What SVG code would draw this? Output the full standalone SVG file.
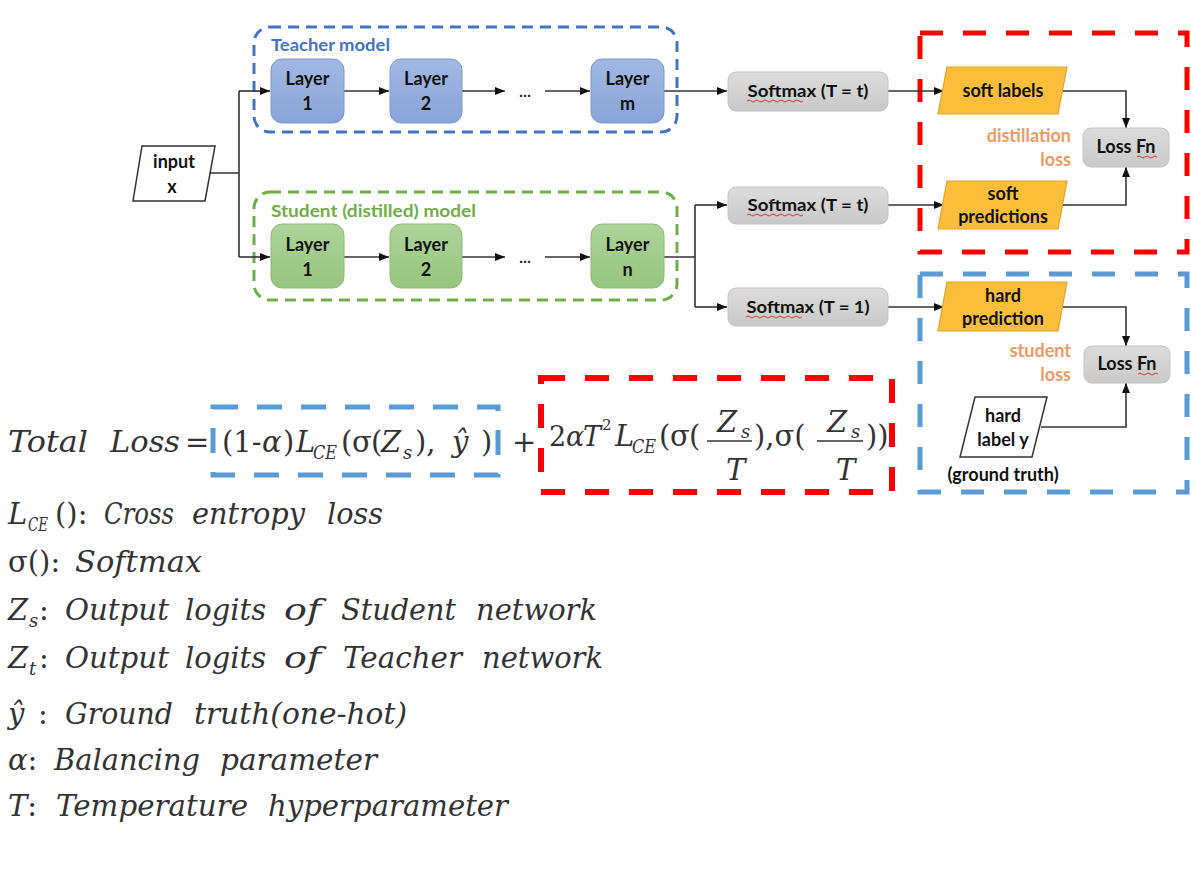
<svg xmlns="http://www.w3.org/2000/svg" width="1191" height="874" viewBox="0 0 1191 874">
<defs>
<linearGradient id="gBlue" x1="0" y1="0" x2="0" y2="1"><stop offset="0" stop-color="#A3B8E4"/><stop offset="1" stop-color="#8AA3D8"/></linearGradient>
<linearGradient id="gGreen" x1="0" y1="0" x2="0" y2="1"><stop offset="0" stop-color="#AFD39A"/><stop offset="1" stop-color="#97C57E"/></linearGradient>
<linearGradient id="gGray" x1="0" y1="0" x2="0" y2="1"><stop offset="0" stop-color="#DCDCDC"/><stop offset="1" stop-color="#C9C9C9"/></linearGradient>
<marker id="arr" markerUnits="userSpaceOnUse" markerWidth="10" markerHeight="10" viewBox="0 0 10 10" refX="10" refY="5" orient="auto"><path d="M0,1 L10,5 L0,9 z" fill="#111"/></marker>
</defs>
<style>
.lbl{font-family:Lato,"Open Sans","Liberation Sans",sans-serif;font-weight:bold;fill:#111;text-anchor:middle}
.layer{font-size:18px}
.smx{font-size:17px}
.blayer{fill:url(#gBlue);stroke:#7C98D2;stroke-width:1}
.glayer{fill:url(#gGreen);stroke:#8BBB72;stroke-width:1}
.gray{fill:url(#gGray);stroke:#C4C4C4;stroke-width:1}
.orange{fill:#FBBE3A;stroke:#E2A12A;stroke-width:1.2}
.white{fill:#fff;stroke:#333;stroke-width:1.5}
.conn{fill:none;stroke:#333;stroke-width:1.6}
.note{font-family:Lato,"Open Sans","Liberation Sans",sans-serif;font-weight:bold;font-size:18px;fill:#EE9A62;text-anchor:end}
.math{font-family:"DejaVu Serif","Liberation Serif",serif;font-style:italic;font-size:29px;fill:#333}
.up{font-style:normal}
.sub{font-size:18px}
.sup{font-size:15px}
.m27{font-size:27px}
.squig{fill:none;stroke:#E02020;stroke-width:0.9}
</style>

<!-- containers -->
<g id="teacher-model">
<rect x="254" y="27" width="423" height="105" rx="16" fill="none" stroke="#4472C4" stroke-width="3" stroke-dasharray="11,7"/>
<text x="271" y="51" font-family="Lato,'Open Sans','Liberation Sans',sans-serif" font-weight="bold" font-size="17" fill="#4472C4" textLength="119" lengthAdjust="spacingAndGlyphs">Teacher model</text>
</g>
<g id="student-model">
<rect x="254" y="192" width="423" height="108" rx="16" fill="none" stroke="#70AD47" stroke-width="3" stroke-dasharray="11,7"/>
<text x="271" y="217" font-family="Lato,'Open Sans','Liberation Sans',sans-serif" font-weight="bold" font-size="17" fill="#70AD47" textLength="205" lengthAdjust="spacingAndGlyphs">Student (distilled) model</text>
</g>
<g id="distillation-region">
<rect x="920" y="33" width="267" height="219" fill="none" stroke="#FF0000" stroke-width="5" stroke-dasharray="23,20"/>
<text class="note" x="1071" y="142">distillation</text>
<text class="note" x="1071" y="166">loss</text>
</g>
<g id="student-region">
<rect x="920" y="274" width="267" height="218" fill="none" stroke="#5B9BD5" stroke-width="5" stroke-dasharray="23,20"/>
<text class="note" x="1071" y="357">student</text>
<text class="note" x="1071" y="381">loss</text>
</g>

<!-- connectors -->
<g id="connectors">
<path class="conn" d="M209,173 H239 M239,91 V257"/>
<path class="conn" d="M239,91 H270" marker-end="url(#arr)"/>
<path class="conn" d="M239,257 H270" marker-end="url(#arr)"/>
<path class="conn" d="M344,91 H389" marker-end="url(#arr)"/>
<path class="conn" d="M462,91 H505" marker-end="url(#arr)"/>
<path class="conn" d="M545,91 H590" marker-end="url(#arr)"/>
<path class="conn" d="M664,91 H727" marker-end="url(#arr)"/>
<path class="conn" d="M344,257 H389" marker-end="url(#arr)"/>
<path class="conn" d="M462,257 H505" marker-end="url(#arr)"/>
<path class="conn" d="M545,257 H590" marker-end="url(#arr)"/>
<path class="conn" d="M664,257 H695 M695,205 V307"/>
<path class="conn" d="M695,205 H727" marker-end="url(#arr)"/>
<path class="conn" d="M695,307 H727" marker-end="url(#arr)"/>
<path class="conn" d="M888,91 H944" marker-end="url(#arr)"/>
<path class="conn" d="M888,205 H944" marker-end="url(#arr)"/>
<path class="conn" d="M888,307 H944" marker-end="url(#arr)"/>
<path class="conn" d="M1062,91 H1126 V128" marker-end="url(#arr)"/>
<path class="conn" d="M1062,205 H1126 V167" marker-end="url(#arr)"/>
<path class="conn" d="M1062,307 H1126 V346" marker-end="url(#arr)"/>
<path class="conn" d="M1041,427 H1126 V383" marker-end="url(#arr)"/>
<text class="lbl" x="525" y="97" font-size="15">…</text>
<text class="lbl" x="525" y="263" font-size="15">…</text>
</g>

<!-- nodes -->
<g id="input-x">
<polygon class="white" points="142,146 215,146 205,201 133,201"/>
<text class="lbl layer" x="174" y="168">input</text>
<text class="lbl layer" x="172" y="193">x</text>
</g>
<g id="t-layer1"><rect class="blayer" x="271" y="59" width="73" height="64" rx="11"/><text class="lbl layer" x="307.5" y="85">Layer</text><text class="lbl layer" x="307.5" y="110">1</text></g>
<g id="t-layer2"><rect class="blayer" x="390" y="59" width="72" height="64" rx="11"/><text class="lbl layer" x="426" y="85">Layer</text><text class="lbl layer" x="426" y="110">2</text></g>
<g id="t-layerm"><rect class="blayer" x="591" y="59" width="73" height="64" rx="11"/><text class="lbl layer" x="627.5" y="85">Layer</text><text class="lbl layer" x="627.5" y="110">m</text></g>
<g id="s-layer1"><rect class="glayer" x="271" y="224" width="73" height="64" rx="11"/><text class="lbl layer" x="307.5" y="251">Layer</text><text class="lbl layer" x="307.5" y="276">1</text></g>
<g id="s-layer2"><rect class="glayer" x="390" y="224" width="72" height="64" rx="11"/><text class="lbl layer" x="426" y="251">Layer</text><text class="lbl layer" x="426" y="276">2</text></g>
<g id="s-layern"><rect class="glayer" x="591" y="224" width="73" height="64" rx="11"/><text class="lbl layer" x="627.5" y="251">Layer</text><text class="lbl layer" x="627.5" y="276">n</text></g>

<g id="softmax-teacher"><rect class="gray" x="728" y="72" width="160" height="39" rx="8"/><text class="lbl smx" x="808" y="97" textLength="121" lengthAdjust="spacingAndGlyphs">Softmax (T = t)</text><path class="squig" d="M747,101 q2,-2 4,0 t4,0 t4,0 t4,0 t4,0 t4,0 t4,0 t4,0 t4,0 t4,0 t4,0 t4,0 t4,0 t4,0"/></g>
<g id="softmax-student-t"><rect class="gray" x="728" y="187" width="160" height="37" rx="8"/><text class="lbl smx" x="808" y="211" textLength="121" lengthAdjust="spacingAndGlyphs">Softmax (T = t)</text><path class="squig" d="M747,215 q2,-2 4,0 t4,0 t4,0 t4,0 t4,0 t4,0 t4,0 t4,0 t4,0 t4,0 t4,0 t4,0 t4,0 t4,0"/></g>
<g id="softmax-student-1"><rect class="gray" x="728" y="288" width="160" height="38" rx="8"/><text class="lbl smx" x="808" y="313" textLength="123" lengthAdjust="spacingAndGlyphs">Softmax (T = 1)</text><path class="squig" d="M746,317 q2,-2 4,0 t4,0 t4,0 t4,0 t4,0 t4,0 t4,0 t4,0 t4,0 t4,0 t4,0 t4,0 t4,0 t4,0"/></g>

<g id="soft-labels"><polygon class="orange" points="947,67 1067,67 1058,114 938,114"/><text class="lbl layer" x="1003" y="97">soft labels</text></g>
<g id="soft-predictions"><polygon class="orange" points="947,181 1067,181 1058,229 938,229"/><text class="lbl layer" x="1003" y="200">soft</text><text class="lbl layer" x="1003" y="223">predictions</text></g>
<g id="hard-prediction"><polygon class="orange" points="947,282 1067,282 1058,331 938,331"/><text class="lbl layer" x="1003" y="302">hard</text><text class="lbl layer" x="1003" y="325">prediction</text></g>
<g id="hard-label"><polygon class="white" points="975,397 1047,397 1032,457 960,457"/><text class="lbl layer" x="1003" y="422">hard</text><text class="lbl layer" x="1003" y="446">label y</text><text class="lbl layer" x="1003" y="481">(ground truth)</text></g>

<g id="lossfn-distill"><rect class="gray" x="1083" y="128" width="86" height="39" rx="8"/><text class="lbl layer" x="1126" y="153">Loss Fn</text><path class="squig" d="M1137,157 q2,-2 4,0 t4,0 t4,0 t4,0 t4,0"/></g>
<g id="lossfn-student"><rect class="gray" x="1084" y="346" width="86" height="37" rx="8"/><text class="lbl layer" x="1127" y="370">Loss Fn</text><path class="squig" d="M1138,374 q2,-2 4,0 t4,0 t4,0 t4,0 t4,0"/></g>

<!-- formula -->
<g id="formula">
<text class="math" x="8" y="452" textLength="80" lengthAdjust="spacingAndGlyphs">Total</text>
<text class="math" x="110" y="452" textLength="70" lengthAdjust="spacingAndGlyphs">Loss</text>
<text class="math up" x="185" y="452">=</text>
<rect x="213" y="407" width="285" height="68" fill="none" stroke="#5B9BD5" stroke-width="5" stroke-dasharray="25,19"/>
<text class="math" y="452"><tspan class="up" x="222">(1-</tspan><tspan x="262">α</tspan><tspan class="up" x="283">)</tspan><tspan x="296">L</tspan></text>
<text class="math sub" x="313" y="459" textLength="24" lengthAdjust="spacingAndGlyphs">CE</text>
<text class="math" y="452"><tspan class="up" x="341">(</tspan><tspan class="up" x="352">σ</tspan><tspan class="up" x="371">(</tspan><tspan x="381">Z</tspan></text>
<text class="math sub" x="403" y="459">s</text>
<text class="math up" x="415" y="452">),</text>
<text class="math" x="452" y="452">ŷ</text>
<text class="math up" x="481" y="452">)</text>
<text class="math up" x="512" y="452">+</text>
<rect x="541" y="378" width="351" height="114" fill="none" stroke="#FF0000" stroke-width="6" stroke-dasharray="24,20"/>
<text class="math m27" x="549" y="446"><tspan class="up">2</tspan><tspan x="566">α</tspan><tspan x="583">T</tspan></text>
<text class="math up sup" x="602" y="430">2</text>
<text class="math" x="615" y="446">L</text>
<text class="math sub" x="632" y="453" textLength="24" lengthAdjust="spacingAndGlyphs">CE</text>
<text class="math up" y="446"><tspan x="659">(</tspan><tspan x="670">σ</tspan><tspan x="689">(</tspan></text>
<line x1="707" y1="441" x2="752" y2="441" stroke="#333" stroke-width="1.3"/>
<text class="math" x="717" y="432">Z</text>
<text class="math sub" x="741" y="438">s</text>
<text class="math" x="726" y="480">T</text>
<text class="math up" x="754" y="446">),σ(</text>
<line x1="817" y1="441" x2="863" y2="441" stroke="#333" stroke-width="1.3"/>
<text class="math" x="827" y="432">Z</text>
<text class="math sub" x="851" y="438">s</text>
<text class="math" x="836" y="480">T</text>
<text class="math up" x="866" y="446">))</text>
</g>

<!-- legend -->
<g id="legend">
<text class="math" x="8" y="524">L</text><text class="math sub" x="28" y="531" textLength="20" lengthAdjust="spacingAndGlyphs">CE</text><text class="math up" x="55" y="524">():</text>
<text class="math" x="104" y="524" textLength="70" lengthAdjust="spacingAndGlyphs">Cross</text>
<text class="math" x="192" y="524" textLength="113" lengthAdjust="spacingAndGlyphs">entropy</text>
<text class="math" x="327" y="524" textLength="56" lengthAdjust="spacingAndGlyphs">loss</text>

<text class="math up" x="8" y="572">σ():</text>
<text class="math" x="75" y="572" textLength="127" lengthAdjust="spacingAndGlyphs">Softmax</text>

<text class="math" x="8" y="620">Z</text><text class="math sub" x="29" y="627">s</text><text class="math up" x="39" y="620">:</text>
<text class="math" x="65" y="620" textLength="104" lengthAdjust="spacingAndGlyphs">Output</text>
<text class="math" x="185" y="620" textLength="81" lengthAdjust="spacingAndGlyphs">logits</text>
<text class="math" x="284" y="620" textLength="37" lengthAdjust="spacingAndGlyphs">of</text>
<text class="math" x="341" y="620" textLength="115" lengthAdjust="spacingAndGlyphs">Student</text>
<text class="math" x="476" y="620" textLength="121" lengthAdjust="spacingAndGlyphs">network</text>

<text class="math" x="8" y="668">Z</text><text class="math sub" x="29" y="675">t</text><text class="math up" x="39" y="668">:</text>
<text class="math" x="65" y="668" textLength="104" lengthAdjust="spacingAndGlyphs">Output</text>
<text class="math" x="185" y="668" textLength="81" lengthAdjust="spacingAndGlyphs">logits</text>
<text class="math" x="284" y="668" textLength="37" lengthAdjust="spacingAndGlyphs">of</text>
<text class="math" x="343" y="668" textLength="119" lengthAdjust="spacingAndGlyphs">Teacher</text>
<text class="math" x="482" y="668" textLength="121" lengthAdjust="spacingAndGlyphs">network</text>

<text class="math" x="8" y="724">ŷ<tspan class="up" x="38">:</tspan></text>
<text class="math" x="65" y="724" textLength="108" lengthAdjust="spacingAndGlyphs">Ground</text>
<text class="math" x="194" y="724" textLength="213" lengthAdjust="spacingAndGlyphs">truth(one-hot)</text>

<text class="math" x="8" y="770">α<tspan class="up">:</tspan></text>
<text class="math" x="54" y="770" textLength="146" lengthAdjust="spacingAndGlyphs">Balancing</text>
<text class="math" x="220" y="770" textLength="157" lengthAdjust="spacingAndGlyphs">parameter</text>

<text class="math" x="8" y="816">T<tspan class="up">:</tspan></text>
<text class="math" x="56" y="816" textLength="192" lengthAdjust="spacingAndGlyphs">Temperature</text>
<text class="math" x="268" y="816" textLength="240" lengthAdjust="spacingAndGlyphs">hyperparameter</text>
</g>
</svg>
